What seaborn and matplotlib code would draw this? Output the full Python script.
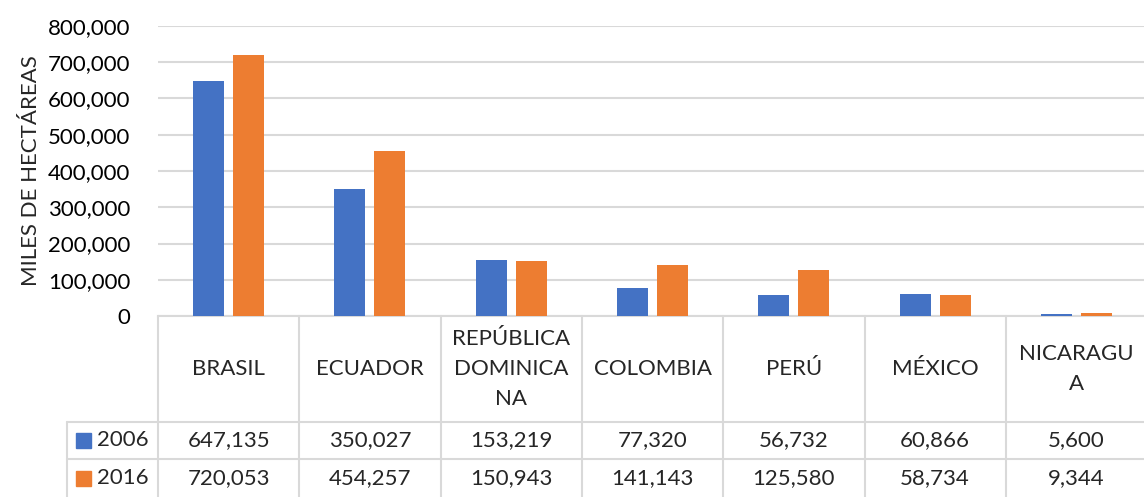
import pandas as pd
import matplotlib.pyplot as plt
import matplotlib.transforms as mtransforms
import seaborn as sns
from matplotlib.ticker import FuncFormatter

# Data
paises = ['BRASIL', 'ECUADOR', 'REPÚBLICA DOMINICANA', 'COLOMBIA', 'PERÚ', 'MÉXICO', 'NICARAGUA']
etiquetas = ['BRASIL', 'ECUADOR', 'REPÚBLICA\nDOMINICA\nNA', 'COLOMBIA', 'PERÚ', 'MÉXICO', 'NICARAGU\nA']
anios = ['2006', '2016']
valores_2006 = [647135, 350027, 153219, 77320, 56732, 60866, 5600]
valores_2016 = [720053, 454257, 150943, 141143, 125580, 58734, 9344]
colores = ['#4472C4', '#ED7D31']

df = pd.DataFrame({
    'pais': paises * 2,
    'anio': ['2006'] * 7 + ['2016'] * 7,
    'valor': valores_2006 + valores_2016,
})

sns.set_theme(style='white')
plt.rcParams['font.family'] = ['Lato', 'DejaVu Sans']
fs = 16

W, H = 1144, 497
fig = plt.figure(figsize=(W / 100, H / 100), dpi=100)
left, right = 158, 158 + 7 * 141.3
top, base = 26, 316
ax = fig.add_axes([left / W, (H - base) / H, (right - left) / W, (base - top) / H])

sns.barplot(data=df, x='pais', y='valor', hue='anio', order=paises, hue_order=anios,
            palette=colores, width=0.566, gap=0.225, ax=ax, legend=False,
            saturation=1, linewidth=0)
for p in ax.patches:
    p.set_zorder(3)

ax.set_xlim(-0.5, 6.5)
ax.set_ylim(0, 800000)
ax.set_yticks(range(0, 800001, 100000))
ax.yaxis.set_major_formatter(FuncFormatter(lambda v, p: f'{int(v):,}'))
ax.tick_params(axis='y', labelsize=fs, pad=20, length=0, colors='#000000')
ax.set_xticks([])
ax.set_xlabel('')
ax.set_ylabel('MILES DE HECTÁREAS', fontsize=fs, labelpad=5)
ax.yaxis.grid(True, color='#d9d9d9', linewidth=1.5)
ax.set_axisbelow(True)
for s in ['top', 'right', 'left']:
    ax.spines[s].set_visible(False)
ax.spines['bottom'].set_color('#d9d9d9')
ax.spines['bottom'].set_linewidth(1.5)
ax.spines['bottom'].set_zorder(2)

# Data table below the axis (x in data units, y in axes fraction)
trans = mtransforms.blended_transform_factory(ax.transData, ax.transAxes)
px = 1.0 / (base - top)
y_head = -(422 - base) * px
y_row1 = -(459 - base) * px
y_bot = -(H + 5 - base) * px
x_left = -0.5 - (158 - 67) / 141.3
lc = '#d9d9d9'
lw = 1.5
for k in range(8):
    ax.plot([k - 0.5, k - 0.5], [0, y_bot], color=lc, lw=lw, transform=trans, clip_on=False)
ax.plot([x_left, x_left], [y_head, y_bot], color=lc, lw=lw, transform=trans, clip_on=False)
for yy in [y_head, y_row1]:
    ax.plot([x_left, 6.5], [yy, yy], color=lc, lw=lw, transform=trans, clip_on=False)

for i, lab in enumerate(etiquetas):
    ax.text(i, (0 + y_head) / 2, lab, ha='center', va='center', fontsize=fs,
            linespacing=1.65, transform=trans)

y_mid1 = (y_head + y_row1) / 2
y_mid2 = (y_row1 - (497 - base) * px) / 2
for fila, (vals, y_mid) in enumerate([(valores_2006, y_mid1), (valores_2016, y_mid2)]):
    for i, v in enumerate(vals):
        ax.text(i, y_mid, f'{v:,}', ha='center', va='center', fontsize=fs, transform=trans)
    key_x = x_left + 9 / 141.3
    ax.add_patch(plt.Rectangle((key_x, y_mid - 7.5 * px), 15 / 141.3, 15 * px,
                               color=colores[fila], transform=trans, clip_on=False))
    ax.text(x_left + 30 / 141.3, y_mid, anios[fila], ha='left', va='center',
            fontsize=fs, transform=trans)

fig.savefig('out.png', dpi=100)
